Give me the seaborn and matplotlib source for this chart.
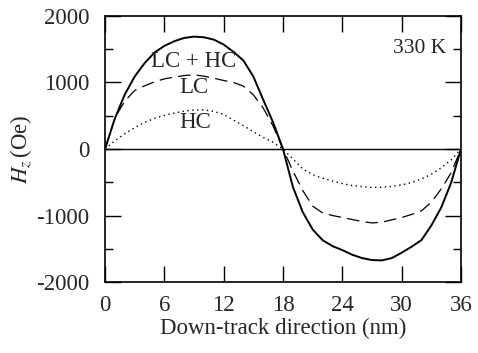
import numpy as np
import pandas as pd
import matplotlib
matplotlib.use("Agg")
import matplotlib.pyplot as plt
from matplotlib.ticker import MultipleLocator
import seaborn as sns

# Down-track position (nm)
x_nm = list(range(0, 37))

# LC + HC (solid)
hz_total = [0, 460, 820, 1090, 1290, 1450, 1550, 1620, 1670, 1690,
            1680, 1645, 1570, 1460, 1330, 1090, 740, 400, 0,
            -570, -950, -1210, -1370, -1460, -1520, -1590, -1640, -1670,
            -1675, -1640, -1560, -1470, -1370, -1150, -880, -510, 0]

# LC (dashed)
hz_lc = [0, 470, 720, 880, 950, 1010, 1055, 1080, 1105, 1115,
         1095, 1065, 1030, 1000, 945, 815, 615, 345, 0,
         -330, -625, -860, -960, -1000, -1030, -1060, -1090, -1112,
         -1100, -1065, -1030, -985, -930, -800, -600, -360, 0]

# HC (dotted)
hz_hc = [0, 125, 230, 320, 400, 460, 505, 540, 570, 585,
         588, 565, 520, 435, 350, 260, 175, 100, 0,
         -150, -300, -385, -440, -480, -520, -550, -565, -578,
         -575, -563, -540, -505, -450, -380, -285, -165, 0]

df = pd.DataFrame({"x": x_nm, "total": hz_total, "lc": hz_lc, "hc": hz_hc})

sns.set_style("ticks")
plt.rcParams["font.family"] = ["Liberation Serif", "DejaVu Serif"]
plt.rcParams["mathtext.fontset"] = "stix"
plt.rcParams["axes.unicode_minus"] = False

fig = plt.figure(figsize=(4.78, 3.53), dpi=100)
ax = fig.add_axes([0.2197, 0.2011, 0.7447, 0.7536])

ax.axhline(0, color="black", lw=1.0)
sns.lineplot(data=df, x="x", y="total", ax=ax, color="black", lw=1.4)
sns.lineplot(data=df, x="x", y="lc", ax=ax, color="black", lw=0.9,
             linestyle=(0, (10, 5)))
sns.lineplot(data=df, x="x", y="hc", ax=ax, color="black", lw=1.0,
             linestyle=(0, (1, 2.5)))

ax.set_xlim(0, 36)
ax.set_ylim(-2000, 2000)
ax.xaxis.set_major_locator(MultipleLocator(6))
ax.yaxis.set_major_locator(MultipleLocator(1000))
ax.yaxis.set_minor_locator(MultipleLocator(500))
ax.tick_params(which="both", direction="in", top=True, right=True,
               color="black", width=1.0, labelsize=16.5)
ax.tick_params(which="major", length=11.5)
ax.tick_params(which="minor", length=5.8)
ax.tick_params(axis="x", which="major", pad=9.5)
ax.tick_params(axis="y", which="major", pad=11)
for s in ax.spines.values():
    s.set_color("black")
    s.set_linewidth(1.2)

ax.set_xlabel("Down-track direction (nm)", fontsize=16.5, labelpad=1)
ax.set_ylabel(r"$H_z\,$(Oe)", fontsize=16.5, labelpad=2)

ax.text(8.95, 1323, "LC + HC", fontsize=16.5, ha="center", va="center")
ax.text(9.0, 925, "LC", fontsize=16.5, ha="center", va="center")
ax.text(9.1, 398, "HC", fontsize=16.5, ha="center", va="center")
ax.text(31.85, 1504, "330 K", fontsize=15.5, ha="center", va="center")

fig.savefig("out.png", dpi=100)
